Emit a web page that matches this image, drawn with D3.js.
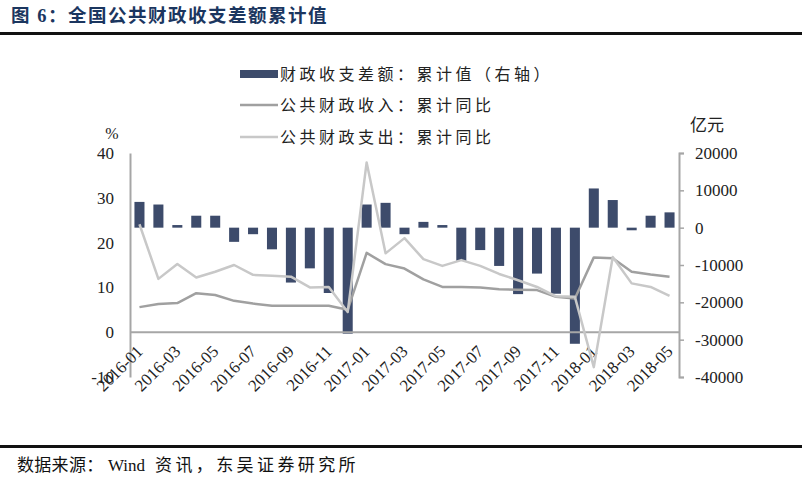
<!DOCTYPE html>
<html><head><meta charset="utf-8">
<script src="https://cdn.jsdelivr.net/npm/d3@7/dist/d3.min.js"></script>
<style>
html,body{margin:0;padding:0;background:#fff;}
svg{display:block;}
</style></head>
<body>
<svg id="chart" width="802" height="482"></svg>
<script>
const months = ["2016-01","2016-02","2016-03","2016-04","2016-05","2016-06","2016-07","2016-08","2016-09","2016-10","2016-11","2016-12",
"2017-01","2017-02","2017-03","2017-04","2017-05","2017-06","2017-07","2017-08","2017-09","2017-10","2017-11","2017-12",
"2018-01","2018-02","2018-03","2018-04","2018-05"];
const balance = [6900,6200,700,3200,3200,-3800,-1750,-5800,-14700,-10900,-17500,-28400,
6200,6650,-1750,1550,700,-8900,-6000,-10250,-17800,-12300,-17700,-31100,
10500,7400,-700,3200,4100];
const revenueYoY = [5.6,6.3,6.5,8.7,8.3,7.0,6.4,5.9,5.9,5.9,5.9,5.0,
17.7,15.2,14.2,11.8,10.1,10.1,10.0,9.6,9.5,9.4,7.9,7.5,
16.7,16.5,13.5,12.9,12.4];
const spendingYoY = [24.1,11.9,15.2,12.2,13.5,15.0,12.8,12.6,12.4,10.0,10.1,4.5,
37.9,17.6,21.0,16.3,14.8,16.1,14.8,13.0,11.6,10.1,8.0,7.9,
-7.8,16.8,10.9,10.1,8.1];
const leftTicks = [-10,0,10,20,30,40];
const rightTicks = [-40000,-30000,-20000,-10000,0,10000,20000];
const xLabels = months.filter((d,i)=>i%2===0);
const titleText = "图 6：全国公共财政收支差额累计值";
const legendLabels = ["财政收支差额：累计值（右轴）","公共财政收入：累计同比","公共财政支出：累计同比"];
const sourceParts = ["数据来源：","Wind","资讯，东吴证券研究所"];

const svg = d3.select("#chart");
const serif = "'Liberation Serif','Times New Roman',serif";
const cjk = "'Noto Sans CJK SC','Noto Sans',sans-serif";
const barColor = "#3d4b6b", revColor = "#a0a0a0", spColor = "#c8c8c8", axisColor = "#a6a6a6";

// title
svg.append("text").attr("x",11).attr("y",22)
  .attr("font-family",serif+","+cjk).attr("font-weight","bold").attr("font-size",18.5)
  .attr("fill","#1b365f").attr("letter-spacing",1.5).text(titleText);
svg.append("rect").attr("x",0).attr("y",32).attr("width",802).attr("height",3).attr("fill","#111");
// footer
svg.append("rect").attr("x",0).attr("y",445).attr("width",802).attr("height",3).attr("fill","#111");
const src = svg.append("text").attr("y",471).attr("font-size",17).attr("fill","#111");
src.append("tspan").attr("x",17).attr("font-family",cjk).attr("letter-spacing",0.3).text(sourceParts[0]);
src.append("tspan").attr("x",108).attr("font-family",serif).text(sourceParts[1]);
src.append("tspan").attr("x",155).attr("font-family",cjk).attr("letter-spacing",3.4).text(sourceParts[2]);

const x0 = 130, x1 = 679, yTop = 153, yBot = 377;
const x = d3.scaleBand().domain(months).range([x0,x1]).paddingInner(0.47).paddingOuter(0.235);
const yL = d3.scaleLinear().domain([-10,40]).range([yBot,yTop]);
const yR = d3.scaleLinear().domain([-40000,20000]).range([yBot,yTop]);

// bars
svg.append("g").selectAll("rect").data(balance).join("rect")
  .attr("x",(d,i)=>x(months[i]))
  .attr("width",x.bandwidth())
  .attr("y",d=>yR(Math.max(0,d)))
  .attr("height",d=>Math.abs(yR(d)-yR(0)))
  .attr("fill",barColor);

// x axis (zero line of left axis)
svg.append("line").attr("x1",x0).attr("x2",x1).attr("y1",yL(0)).attr("y2",yL(0))
  .attr("stroke",axisColor).attr("stroke-width",2);

// left axis
const gL = svg.append("g").attr("transform",`translate(${x0},0)`)
  .call(d3.axisLeft(yL).tickValues(leftTicks).tickSize(0).tickPadding(16).tickFormat(d=>String(d)));
gL.select(".domain").attr("stroke",axisColor).attr("stroke-width",2);
gL.selectAll("text").attr("font-family",serif).attr("font-size",17).attr("fill","#222");

// right axis
const gR = svg.append("g").attr("transform",`translate(${x1},0)`)
  .call(d3.axisRight(yR).tickValues(rightTicks).tickSize(5).tickPadding(11).tickFormat(d=>String(d)));
gR.select(".domain").attr("stroke",axisColor).attr("stroke-width",2);
gR.selectAll(".tick line").attr("stroke",axisColor).attr("stroke-width",1.5);
gR.selectAll("text").attr("font-family",serif).attr("font-size",17).attr("fill","#222");

// x labels
svg.append("g").selectAll("text").data(xLabels).join("text")
  .attr("transform",d=>`translate(${x(d)+x.bandwidth()/2},${yL(0)+16}) rotate(-45)`)
  .attr("text-anchor","end").attr("dy","0.35em")
  .attr("font-family",serif).attr("font-size",17).attr("fill","#222")
  .text(d=>d);

// lines
const line = d3.line().x((d,i)=>x(months[i])+x.bandwidth()/2).y(d=>yL(d));
svg.append("path").datum(revenueYoY).attr("d",line).attr("fill","none")
  .attr("stroke",revColor).attr("stroke-width",2.5).attr("stroke-linejoin","round");
svg.append("path").datum(spendingYoY).attr("d",line).attr("fill","none")
  .attr("stroke",spColor).attr("stroke-width",2.5).attr("stroke-linejoin","round");

// unit labels
svg.append("text").attr("x",112).attr("y",139).attr("text-anchor","middle")
  .attr("font-family",serif).attr("font-size",16).attr("fill","#222").text("%");
svg.append("text").attr("x",690).attr("y",131)
  .attr("font-family",cjk).attr("font-size",17).attr("fill","#222").text("亿元");

// legend
const lg = svg.append("g");
const rows = [74,105,137];
lg.append("rect").attr("x",240).attr("y",rows[0]-4).attr("width",38).attr("height",8).attr("fill",barColor);
lg.append("line").attr("x1",240).attr("x2",278).attr("y1",rows[1]).attr("y2",rows[1]).attr("stroke",revColor).attr("stroke-width",2.5);
lg.append("line").attr("x1",240).attr("x2",278).attr("y1",rows[2]).attr("y2",rows[2]).attr("stroke",spColor).attr("stroke-width",2.5);
lg.selectAll("text.lg").data(legendLabels).join("text").attr("class","lg")
  .attr("x",280).attr("y",(d,i)=>rows[i]).attr("dy","0.35em")
  .attr("font-family",cjk).attr("font-size",16).attr("letter-spacing",3.5).attr("fill","#222")
  .text(d=>d);
</script>
</body></html>
